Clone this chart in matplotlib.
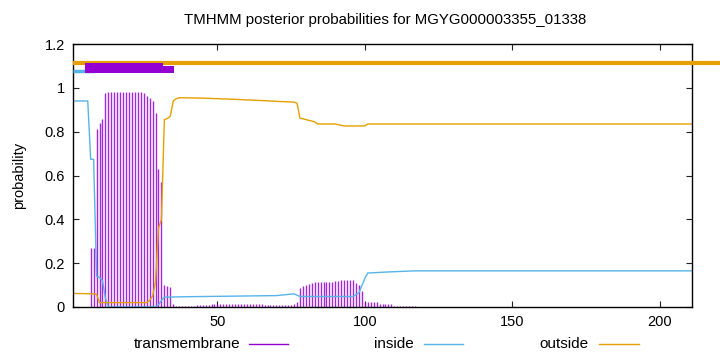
import matplotlib
matplotlib.use("Agg")
import matplotlib.pyplot as plt
from matplotlib.lines import Line2D
from matplotlib.patches import Rectangle

plt.rcParams["font.family"] = ["Liberation Sans", "DejaVu Sans"]

SEQ_LEN = 211
TITLE = "TMHMM posterior probabilities for MGYG000003355_01338"

# transmembrane posterior, residues 1..120 (rest ~0)
tm_prob = [
    0, 0, 0, 0, 0, 0, 0.27, 0.27, 0.81, 0.84,
    0.86, 0.975, 0.98, 0.98, 0.98, 0.98, 0.98, 0.98, 0.98, 0.98,
    0.98, 0.98, 0.98, 0.98, 0.975, 0.965, 0.955, 0.94, 0.885, 0.63,
    0.57, 0.10, 0.095, 0.09, 0.015, 0.005, 0.004, 0.004, 0.004, 0.005,
    0.005, 0.006, 0.007, 0.008, 0.01, 0.01, 0.011, 0.012, 0.012, 0.013,
    0.014, 0.014, 0.015, 0.015, 0.015, 0.015, 0.015, 0.015, 0.015, 0.014,
    0.014, 0.013, 0.013, 0.012, 0.012, 0.011, 0.01, 0.01, 0.009, 0.009,
    0.009, 0.009, 0.009, 0.009, 0.01, 0.012, 0.024, 0.087, 0.096, 0.10,
    0.105, 0.11, 0.115, 0.115, 0.115, 0.115, 0.115, 0.115, 0.115, 0.118,
    0.118, 0.122, 0.122, 0.122, 0.122, 0.122, 0.11, 0.10, 0.075, 0.022,
    0.022, 0.022, 0.022, 0.022, 0.014, 0.014, 0.014, 0.014, 0.014, 0.006,
    0.006, 0.006, 0.006, 0.006, 0.006, 0.003, 0.003, 0.002, 0.002, 0.001,
]
tm_pos = list(range(1, len(tm_prob) + 1))

# inside posterior (read at breakpoints)
inside_pos = [1, 6, 7, 8, 9, 10, 11, 12, 13, 29, 30, 31, 32, 40, 70, 76, 78,
              96, 98, 100, 101, 108, 117, 211]
inside_prob = [0.94, 0.94, 0.674, 0.674, 0.14, 0.135, 0.12, 0.04, 0.0, 0.0,
               0.01, 0.03, 0.045, 0.047, 0.052, 0.06, 0.048, 0.048, 0.065,
               0.13, 0.155, 0.16, 0.165, 0.165]

# outside posterior (read at breakpoints)
outside_pos = [1, 8, 9, 10, 26, 27, 28, 29, 30, 31, 32, 33, 34, 35, 36, 37,
               45, 55, 65, 72, 76, 77, 78, 83, 84, 90, 93, 100, 101, 211]
outside_prob = [0.062, 0.06, 0.058, 0.02, 0.02, 0.03, 0.05, 0.115, 0.36, 0.40,
                0.855, 0.86, 0.87, 0.94, 0.95, 0.955, 0.953, 0.948, 0.942,
                0.937, 0.935, 0.93, 0.862, 0.845, 0.835, 0.835, 0.826, 0.826,
                0.835, 0.835]

# predicted topology bars drawn above the curves
inside_seg = (1, 8)
tm_seg = (5.1, 31.4)
tm_seg_tail = (31.4, 35.1)
outside_seg = (1, 220.5)

c_tm = "#9400d3"
c_in = "#56b4e9"
c_out = "#e69f00"

fig = plt.figure(figsize=(7.2, 3.52), dpi=100)
ax = fig.add_axes([73 / 720, 45 / 352, 619 / 720, 263 / 352])

ax.vlines(tm_pos, 0, tm_prob, color=c_tm, lw=1.0, alpha=0.85)
ax.plot(inside_pos, inside_prob, color=c_in, lw=1.0)
ax.plot(outside_pos, outside_prob, color=c_out, lw=1.0)

# topology bars
ax.plot(outside_seg, [1.112, 1.112], color=c_out, lw=3.0,
        solid_capstyle="butt", clip_on=False, zorder=3)
ax.plot(inside_seg, [1.075, 1.075], color=c_in, lw=2.5,
        solid_capstyle="butt", clip_on=False, zorder=3)
ax.add_patch(Rectangle((tm_seg[0], 1.067), tm_seg[1] - tm_seg[0], 0.046,
                       color=c_tm, lw=0, zorder=4))
ax.add_patch(Rectangle((tm_seg_tail[0], 1.067), tm_seg_tail[1] - tm_seg_tail[0],
                       0.032, color=c_tm, lw=0, zorder=4))

ax.set_xlim(1, SEQ_LEN)
ax.set_ylim(0, 1.2)
ax.set_xticks([50, 100, 150, 200])
ax.set_yticks([0, 0.2, 0.4, 0.6, 0.8, 1.0, 1.2])
ax.set_yticklabels(["0", "0.2", "0.4", "0.6", "0.8", "1", "1.2"])
ax.tick_params(direction="in", length=4, width=0.8, labelsize=10.5,
               top=True, right=True, pad=6, colors="#222222", labelcolor="black")
for s in ax.spines.values():
    s.set_linewidth(1.0)

ax.set_ylabel("probability", fontsize=10.5, labelpad=13)
fig.text(385 / 720, 1 - 20 / 352, TITLE, ha="center", va="center", fontsize=10.8)

# legend row below the axis
legend_items = [("transmembrane", c_tm, 240, 249, 288),
                ("inside", c_in, 414, 424, 463),
                ("outside", c_out, 589, 599, 639)]
ly = 1 - 344 / 352
for label, col, tx, x0, x1 in legend_items:
    fig.text(tx / 720, ly, label, ha="right", va="center", fontsize=11)
    fig.add_artist(Line2D([x0 / 720, x1 / 720], [ly, ly], color=col, lw=1.0,
                          transform=fig.transFigure))

fig.savefig("out.png", dpi=100)
